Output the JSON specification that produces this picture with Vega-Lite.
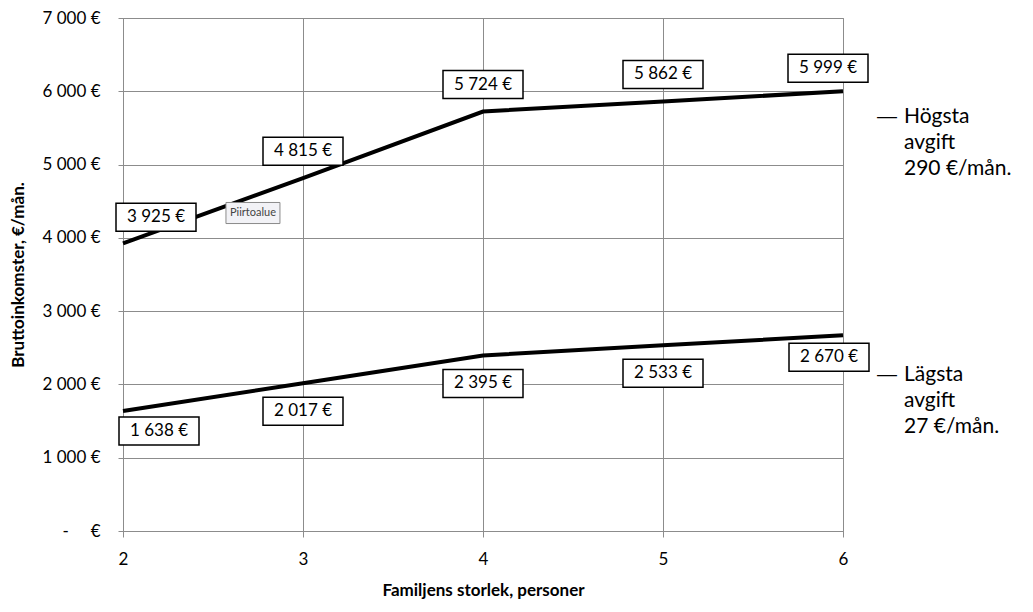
{
  "$schema": "https://vega.github.io/schema/vega-lite/v6.json",
  "width": 720,
  "height": 513,
  "autosize": {"type": "none"},
  "padding": {"left": 123, "top": 18, "right": 190, "bottom": 81},
  "background": "white",
  "config": {
    "font": "Lato",
    "view": {"stroke": "#8c8c8c", "strokeWidth": 1},
    "axis": {
      "grid": true,
      "gridColor": "#8c8c8c",
      "gridWidth": 1,
      "gridOpacity": 1,
      "domainColor": "#8c8c8c",
      "tickColor": "#8c8c8c",
      "labelColor": "black",
      "labelFont": "Lato",
      "labelFontSize": 17,
      "labelFlush": false,
      "titleFont": "Lato",
      "titleFontSize": 17,
      "titleFontWeight": "bold",
      "titleColor": "black"
    }
  },
  "data": {
    "values": [
      {"series": "Högsta", "x": 2, "y": 3925},
      {"series": "Högsta", "x": 3, "y": 4815},
      {"series": "Högsta", "x": 4, "y": 5724},
      {"series": "Högsta", "x": 5, "y": 5862},
      {"series": "Högsta", "x": 6, "y": 5999},
      {"series": "Lägsta", "x": 2, "y": 1638},
      {"series": "Lägsta", "x": 3, "y": 2017},
      {"series": "Lägsta", "x": 4, "y": 2395},
      {"series": "Lägsta", "x": 5, "y": 2533},
      {"series": "Lägsta", "x": 6, "y": 2670}
    ]
  },
  "encoding": {
    "x": {
      "field": "x",
      "type": "quantitative",
      "scale": {"domain": [2, 6], "nice": false, "zero": false},
      "axis": {
        "values": [2, 3, 4, 5, 6],
        "format": "d",
        "tickSize": 6,
        "labelPadding": 14,
        "title": "Familjens storlek, personer",
        "titleY": 59,
        "titleBaseline": "middle"
      }
    },
    "y": {
      "field": "y",
      "type": "quantitative",
      "scale": {"domain": [0, 7000], "nice": false},
      "axis": {
        "values": [0, 1000, 2000, 3000, 4000, 5000, 6000, 7000],
        "labelExpr": "datum.value == 0 ? '-\u00a0\u00a0\u00a0\u00a0\u00a0€' : replace(format(datum.value, ',.0f'), ',', '\u00a0') + '\u00a0€'",
        "tickSize": 5,
        "labelPadding": 18,
        "title": "Bruttoinkomster, €/mån.",
        "titleX": -105,
        "titleY": 256.5,
        "titleAlign": "center",
        "titleBaseline": "middle"
      }
    }
  },
  "layer": [
    {
      "mark": {"type": "line", "color": "black", "strokeWidth": 4},
      "encoding": {"detail": {"field": "series"}}
    },
    {
      "transform": [
        {"filter": "datum.series == 'Högsta' && datum.x == 2"},
        {"calculate": "replace(format(datum.y, ',.0f'), ',', '\u00a0') + '\u00a0€'", "as": "lab"}
      ],
      "layer": [
        {"mark": {"type": "point", "shape": "M-1,-0.35H1V0.35H-1Z", "size": 6400, "filled": true, "fill": "white", "stroke": "black", "strokeWidth": 1.5, "opacity": 1, "xOffset": 33, "yOffset": -26}},
        {"mark": {"type": "text", "fontSize": 17, "color": "black", "xOffset": 33, "yOffset": -26}, "encoding": {"text": {"field": "lab"}}}
      ]
    },
    {
      "transform": [
        {"filter": "datum.series == 'Högsta' && datum.x > 2 && datum.x < 6"},
        {"calculate": "replace(format(datum.y, ',.0f'), ',', '\u00a0') + '\u00a0€'", "as": "lab"}
      ],
      "layer": [
        {"mark": {"type": "point", "shape": "M-1,-0.35H1V0.35H-1Z", "size": 6400, "filled": true, "fill": "white", "stroke": "black", "strokeWidth": 1.5, "opacity": 1, "yOffset": -27}},
        {"mark": {"type": "text", "fontSize": 17, "color": "black", "yOffset": -27}, "encoding": {"text": {"field": "lab"}}}
      ]
    },
    {
      "transform": [
        {"filter": "datum.series == 'Högsta' && datum.x == 6"},
        {"calculate": "replace(format(datum.y, ',.0f'), ',', '\u00a0') + '\u00a0€'", "as": "lab"}
      ],
      "layer": [
        {"mark": {"type": "point", "shape": "M-1,-0.35H1V0.35H-1Z", "size": 6400, "filled": true, "fill": "white", "stroke": "black", "strokeWidth": 1.5, "opacity": 1, "xOffset": -15, "yOffset": -23}},
        {"mark": {"type": "text", "fontSize": 17, "color": "black", "xOffset": -15, "yOffset": -23}, "encoding": {"text": {"field": "lab"}}}
      ]
    },
    {
      "transform": [
        {"filter": "datum.series == 'Lägsta' && datum.x == 2"},
        {"calculate": "replace(format(datum.y, ',.0f'), ',', '\u00a0') + '\u00a0€'", "as": "lab"}
      ],
      "layer": [
        {"mark": {"type": "point", "shape": "M-1,-0.35H1V0.35H-1Z", "size": 6400, "filled": true, "fill": "white", "stroke": "black", "strokeWidth": 1.5, "opacity": 1, "xOffset": 36, "yOffset": 20}},
        {"mark": {"type": "text", "fontSize": 17, "color": "black", "xOffset": 36, "yOffset": 20}, "encoding": {"text": {"field": "lab"}}}
      ]
    },
    {
      "transform": [
        {"filter": "datum.series == 'Lägsta' && datum.x > 2 && datum.x < 6"},
        {"calculate": "replace(format(datum.y, ',.0f'), ',', '\u00a0') + '\u00a0€'", "as": "lab"}
      ],
      "layer": [
        {"mark": {"type": "point", "shape": "M-1,-0.35H1V0.35H-1Z", "size": 6400, "filled": true, "fill": "white", "stroke": "black", "strokeWidth": 1.5, "opacity": 1, "yOffset": 28}},
        {"mark": {"type": "text", "fontSize": 17, "color": "black", "yOffset": 28}, "encoding": {"text": {"field": "lab"}}}
      ]
    },
    {
      "transform": [
        {"filter": "datum.series == 'Lägsta' && datum.x == 6"},
        {"calculate": "replace(format(datum.y, ',.0f'), ',', '\u00a0') + '\u00a0€'", "as": "lab"}
      ],
      "layer": [
        {"mark": {"type": "point", "shape": "M-1,-0.35H1V0.35H-1Z", "size": 6400, "filled": true, "fill": "white", "stroke": "black", "strokeWidth": 1.5, "opacity": 1, "xOffset": -14, "yOffset": 22}},
        {"mark": {"type": "text", "fontSize": 17, "color": "black", "xOffset": -14, "yOffset": 22}, "encoding": {"text": {"field": "lab"}}}
      ]
    },
    {
      "data": {"values": [{"x": 6, "y": 5999}]},
      "layer": [
        {"mark": {"type": "text", "text": "—", "font": "Liberation Sans", "fontSize": 20, "color": "black", "align": "center", "baseline": "middle", "dx": 44, "dy": 26}},
        {"mark": {"type": "text", "text": ["Högsta", "avgift", "290 €/mån."], "fontSize": 21, "lineHeight": 26, "color": "black", "align": "left", "baseline": "middle", "dx": 61, "dy": 26}}
      ]
    },
    {
      "data": {"values": [{"x": 6, "y": 2670}]},
      "layer": [
        {"mark": {"type": "text", "text": "—", "font": "Liberation Sans", "fontSize": 20, "color": "black", "align": "center", "baseline": "middle", "dx": 44, "dy": 40}},
        {"mark": {"type": "text", "text": ["Lägsta", "avgift", "27 €/mån."], "fontSize": 21, "lineHeight": 26, "color": "black", "align": "left", "baseline": "middle", "dx": 61, "dy": 40}}
      ]
    },
    {
      "data": {"values": [{"x": 2.722, "y": 4339}]},
      "layer": [
        {"mark": {"type": "point", "shape": "M-1,-0.39H1V0.39H-1Z", "size": 2916, "filled": true, "fill": "#f2f2f6", "stroke": "#8a8a8a", "strokeWidth": 1, "opacity": 1}},
        {"mark": {"type": "text", "text": "Piirtoalue", "fontSize": 11, "color": "#444444"}}
      ]
    }
  ]
}
